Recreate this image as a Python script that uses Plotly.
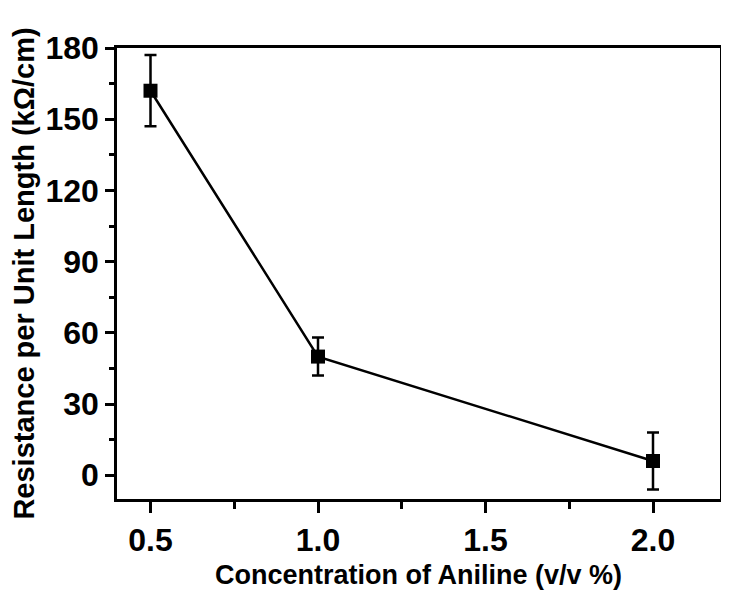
import plotly.graph_objects as go

concentration = [0.5, 1.0, 2.0]
resistance = [162, 50, 6]
error = [15, 8, 12]

x_ticks = [0.5, 1.0, 1.5, 2.0]
x_tick_labels = ["0.5", "1.0", "1.5", "2.0"]
y_ticks = [0, 30, 60, 90, 120, 150, 180]
y_tick_labels = ["0", "30", "60", "90", "120", "150", "180"]

font_family = "Liberation Sans, Arial, sans-serif"

fig = go.Figure()
fig.add_trace(go.Scatter(
    x=concentration, y=resistance,
    mode="lines+markers",
    line=dict(color="black", width=2.5),
    marker=dict(symbol="square", size=14, color="black"),
    error_y=dict(type="data", array=error, visible=True, color="black", thickness=2.5, width=6),
    showlegend=False,
))

axis_common = dict(
    showline=True, linecolor="black", linewidth=2.5, mirror=True,
    showgrid=False, zeroline=False,
    ticks="outside", tickcolor="black", tickwidth=2.5,
    tickfont=dict(family=font_family, size=32, color="black", weight="bold"),
)

# page body adds an ~8px offset, so the figure is drawn 8px smaller
fig.update_layout(
    width=721, height=584,
    margin=dict(l=109, r=6, t=40, b=93),
    paper_bgcolor="white", plot_bgcolor="white",
    xaxis=dict(
        range=[0.4, 2.2], tickvals=x_ticks, ticktext=x_tick_labels, ticklen=11,
        minor=dict(ticks="outside", ticklen=7, tickvals=[0.75, 1.25, 1.75], tickcolor="black", tickwidth=2.5),
        title=dict(text="Concentration of Aniline (v/v %)", standoff=8,
                   font=dict(family=font_family, size=27, color="black", weight="bold")),
        **axis_common,
    ),
    yaxis=dict(
        range=[-10, 180], tickvals=y_ticks, ticktext=y_tick_labels, ticklen=9,
        minor=dict(ticks="outside", ticklen=5, tickvals=[15, 45, 75, 105, 135, 165], tickcolor="black", tickwidth=2.5),
        title=dict(text="Resistance per Unit Length (kΩ/cm)", standoff=6,
                   font=dict(family=font_family, size=29, color="black", weight="bold")),
        **axis_common,
    ),
)

fig.write_html("out.html")
